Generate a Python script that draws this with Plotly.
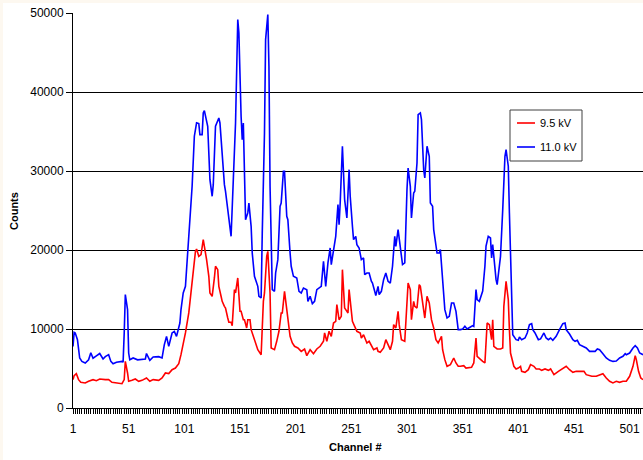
import plotly.graph_objects as go

# ---- data ----
ch_11kv = [1, 2, 3, 5, 7, 9, 12, 15, 17, 19, 22, 25, 28, 30, 33, 35, 37, 40, 45, 46, 47, 48, 50, 51, 52, 55, 59, 63, 66, 67,
           70, 73, 78, 81, 83, 85, 87, 90, 92, 94, 96, 97, 98, 100, 102, 103, 105, 107, 108, 110, 112, 114, 115, 117, 118, 119,
           121, 122, 123, 124, 126, 127, 129, 132, 133, 135, 137, 138, 140, 142, 143, 145, 146, 147, 149, 150, 152, 153, 154,
           155, 156, 158, 159, 161, 162, 164, 167, 168, 170, 171, 173, 174, 176, 177, 178, 180, 182, 183, 185, 187, 188, 190,
           191, 193, 194, 196, 197, 199, 202, 204, 206, 208, 211, 212, 214, 216, 218, 220, 222, 224, 226, 228, 230, 232, 233,
           235, 237, 239, 240, 241, 243, 245, 247, 249, 250, 252, 253, 255, 256, 258, 260, 262, 263, 265, 267, 269, 270, 272,
           273, 275, 276, 278, 280, 282, 284, 286, 288, 290, 291, 293, 295, 297, 299, 300, 301, 302, 304, 305, 307, 308, 310,
           311, 313, 314, 316, 317, 319, 321, 322, 324, 325, 328, 330, 331, 333, 335, 337, 339, 341, 343, 345, 347, 349, 351,
           353, 355, 358, 360, 361, 363, 364, 366, 369, 370, 371, 372, 374, 376, 377, 378, 379, 381, 382, 384, 385, 387, 389,
           390, 392, 393, 395, 396, 399, 401, 402, 404, 407, 409, 411, 413, 414, 416, 419, 421, 424, 426, 428, 430, 432, 435,
           438, 441, 443, 444, 447, 450, 452, 454, 456, 459, 462, 465, 470, 472, 474, 477, 480, 483, 486, 489, 492, 495, 497,
           498, 501, 504, 506, 508, 510, 513]
counts_11kv = [7800, 9580, 9500, 8650, 6330, 5900, 5700, 6100, 7000, 6300, 6600, 6900, 6200, 6500, 6750, 5900, 5600, 5800,
               5900, 5800, 9500, 14350, 12450, 6960, 6100, 6330, 6100, 6200, 6200, 6900, 6030, 6450, 6500, 6330, 8000, 9070,
               7800, 9500, 9700, 9070, 10130, 10760, 12450, 14560, 15400, 17500, 22150, 27200, 28060, 34400, 36100, 36000,
               34600, 34600, 37350, 37640, 36100, 35660, 32280, 28900, 26800, 28270, 35660, 36710, 36080, 31440, 28270, 27430,
               24900, 23000, 21730, 28900, 33550, 36080, 49160, 47480, 36900, 33970, 36080, 30600, 23840, 24690, 25950, 23000,
               19620, 16670, 15400, 14140, 13930, 22150, 34800, 46630, 49800, 43250, 28060, 14980, 14770, 17090, 18780, 25530,
               25950, 29960, 29960, 24270, 23840, 19620, 17940, 16670, 16460, 14770, 14560, 15190, 14980, 13500, 14140, 13210,
               13500, 14980, 15190, 15400, 18570, 15400, 18360, 20260, 18150, 20260, 21730, 25740, 23210, 25950, 33130, 26380,
               24050, 30170, 26800, 23000, 21310, 21730, 20680, 20260, 18780, 18990, 16880, 17090, 17090, 16040, 15820, 14770,
               14220, 15400, 14350, 14770, 16250, 17090, 16040, 15820, 17940, 21730, 20470, 22580, 20260, 18150, 18360, 23840,
               27640, 30380, 28060, 24050, 27220, 27430, 31020, 37140, 37350, 36500, 30170, 29120, 33130, 31860, 25950, 25530,
               22580, 19620, 19620, 20050, 15820, 12450, 11390, 11600, 13290, 13290, 12240, 9920, 9920, 10000, 10340, 10000,
               10250, 10420, 10340, 14980, 13720, 13500, 14800, 16000, 17940, 20500, 21730, 21520, 18990, 20680, 18780, 16250,
               15610, 18360, 19200, 25110, 31860, 32700, 30600, 24690, 15820, 9280, 8650, 8570, 8990, 8650, 8860, 9500, 10550,
               10680, 9920, 9500, 8650, 8740, 9500, 8860, 8650, 8860, 8570, 9070, 9920, 10680, 10760, 9920, 9370, 8650, 8440,
               8570, 8020, 7800, 7600, 7170, 7170, 7470, 7380, 6880, 6330, 6030, 5900, 5950, 6330, 6540, 6880, 6750, 6960,
               7600, 7890, 7600, 6960, 6750]

ch_9_5kv = [1, 2, 4, 6, 8, 12, 15, 19, 22, 25, 30, 33, 36, 40, 45, 47, 48, 50, 51, 54, 57, 60, 63, 67, 70, 73, 78, 81, 84, 87,
            90, 93, 96, 98, 100, 102, 105, 107, 108, 111, 112, 114, 116, 118, 121, 123, 124, 125, 126, 128, 129, 131, 132, 134,
            135, 137, 138, 140, 141, 143, 144, 146, 147, 149, 150, 151, 152, 154, 155, 157, 158, 160, 161, 163, 164, 166, 167,
            170, 171, 172, 173, 175, 176, 178, 179, 182, 184, 186, 188, 189, 191, 193, 194, 196, 198, 200, 203, 206, 209, 211,
            214, 217, 220, 223, 226, 227, 229, 231, 233, 235, 237, 238, 240, 242, 243, 245, 246, 248, 249, 250, 252, 254, 256,
            259, 260, 262, 265, 267, 269, 271, 274, 275, 277, 280, 282, 284, 286, 288, 289, 291, 293, 294, 296, 299, 300, 302,
            304, 305, 307, 308, 310, 312, 313, 315, 317, 319, 321, 323, 325, 327, 329, 332, 333, 335, 337, 340, 343, 345, 347,
            349, 352, 354, 356, 359, 361, 363, 364, 367, 369, 371, 373, 375, 377, 378, 379, 382, 385, 387, 388, 390, 392, 393,
            394, 397, 399, 401, 403, 404, 407, 410, 412, 415, 417, 420, 422, 425, 428, 430, 433, 437, 441, 444, 447, 450, 453,
            456, 460, 462, 467, 471, 474, 477, 480, 483, 486, 489, 492, 495, 498, 501, 504, 506, 507, 509, 511, 513]
counts_9_5kv = [3590, 4090, 4350, 3590, 3250, 3170, 3380, 3590, 3460, 3670, 3590, 3590, 3250, 3170, 3080, 3590, 5910, 4430,
                3380, 3500, 3670, 3380, 3500, 3800, 3380, 3590, 3500, 3800, 4430, 4350, 4850, 5060, 5610, 6750, 8020, 9500,
                12030, 14560, 16670, 19830, 20130, 19200, 19410, 21310, 18780, 16670, 14560, 14350, 14140, 16460, 17940,
                17510, 15400, 14140, 13500, 12870, 12660, 11390, 10850, 10850, 10420, 14980, 14560, 16460, 13710, 12240,
                12240, 11180, 11180, 10130, 11180, 11180, 9920, 9070, 8440, 7810, 7380, 6750, 10760, 13500, 14560, 19200,
                19830, 14560, 7600, 7380, 8440, 9710, 12030, 12030, 14770, 12240, 11820, 9070, 8230, 7810, 7600, 7170, 7470,
                6630, 7380, 6880, 7470, 7810, 8440, 9500, 8440, 9710, 9070, 10760, 10970, 13080, 11180, 11600, 17510, 12660,
                12450, 12030, 14980, 13290, 10970, 10340, 9710, 9500, 8860, 9280, 8230, 8440, 7810, 7380, 7600, 7170, 7050,
                7600, 8650, 8020, 7380, 8440, 10550, 10130, 12240, 10550, 8650, 8440, 11600, 15820, 14980, 11180, 13500,
                12870, 12660, 15610, 15400, 13290, 11390, 14140, 13290, 11180, 10130, 8650, 8230, 9070, 7380, 6120, 5280,
                5490, 6330, 5700, 5280, 5280, 5360, 5060, 5060, 5150, 5700, 8860, 6540, 6120, 5910, 5700, 10760, 10550, 8650,
                11180, 7810, 7470, 7470, 7600, 12870, 16040, 13710, 9920, 6960, 5280, 4940, 5060, 5280, 4640, 4520, 4850,
                5490, 5280, 4940, 4940, 4770, 4940, 4770, 4940, 4220, 4640, 5060, 5280, 4850, 4520, 4640, 4640, 4640, 4220,
                4010, 4010, 4220, 4350, 3800, 3380, 3170, 3380, 3250, 3380, 3380, 4010, 5280, 6630, 6120, 4640, 3800, 3590]

series_names = ["9.5 kV", "11.0 kV"]
series_colors = ["#ff0000", "#0000ff"]
y_tick_values = [0, 10000, 20000, 30000, 40000, 50000]
x_tick_labels = [1, 51, 101, 151, 201, 251, 301, 351, 401, 451, 501]
x_tick_marks = list(range(1, 514, 2))  # a small tick every second channel

FONT = "Liberation Sans, Arial, sans-serif"

fig = go.Figure()
fig.add_trace(go.Scatter(x=ch_9_5kv, y=counts_9_5kv, mode="lines", name=series_names[0],
                         line=dict(color=series_colors[0], width=1.6), showlegend=False))
fig.add_trace(go.Scatter(x=ch_11kv, y=counts_11kv, mode="lines", name=series_names[1],
                         line=dict(color=series_colors[1], width=1.6), showlegend=False))

# plot-area geometry (pixels) used for paper-coordinate conversions
L, T, W, H = 73, 13, 570, 395


def px(xp):
    return (xp - L) / W


def py(yp):
    return (T + H - yp) / H


shapes = [
    # white page with a thin cream strip on top/left
    dict(type="rect", xref="paper", yref="paper", x0=px(3), x1=1.2, y0=-0.3, y1=py(3),
         fillcolor="white", line=dict(width=0), layer="below"),
    # legend box
    dict(type="rect", xref="paper", yref="paper", x0=px(510), x1=px(582), y0=py(161), y1=py(110),
         fillcolor="white", line=dict(color="#404040", width=1), layer="above"),
    dict(type="line", xref="paper", yref="paper", x0=px(517), x1=px(535), y0=py(123), y1=py(123),
         line=dict(color=series_colors[0], width=1.6), layer="above"),
    dict(type="line", xref="paper", yref="paper", x0=px(517), x1=px(535), y0=py(147), y1=py(147),
         line=dict(color=series_colors[1], width=1.6), layer="above"),
]

annotations = [
    dict(text=series_names[0], xref="paper", yref="paper", x=px(538), y=py(123), xanchor="left",
         yanchor="middle", showarrow=False, font=dict(family=FONT, size=11, color="black")),
    dict(text=series_names[1], xref="paper", yref="paper", x=px(538), y=py(147), xanchor="left",
         yanchor="middle", showarrow=False, font=dict(family=FONT, size=11, color="black")),
    dict(text="<b>Counts</b>", xref="paper", yref="paper", x=px(14), y=py(211), textangle=-90,
         xanchor="center", yanchor="middle", showarrow=False, font=dict(family=FONT, size=11, color="black")),
    dict(text="<b>Channel #</b>", xref="paper", yref="paper", x=px(355), y=py(447),
         xanchor="center", yanchor="middle", showarrow=False, font=dict(family=FONT, size=11, color="black")),
]

fig.update_layout(
    width=643, height=460,
    margin=dict(l=L, r=643 - L - W, t=T, b=460 - T - H, pad=0),
    paper_bgcolor="#fdf8f0",
    plot_bgcolor="white",
    font=dict(family=FONT, size=12, color="black"),
    shapes=shapes,
    annotations=annotations,
    showlegend=False,
    xaxis=dict(
        range=[1, 513], tickmode="array", tickvals=x_tick_marks,
        ticktext=[str(v) if v in x_tick_labels else "" for v in x_tick_marks],
        ticks="outside", ticklen=5, tickwidth=1, tickcolor="black",
        showline=True, linecolor="black", linewidth=1, showgrid=False, zeroline=False,
        tickfont=dict(family=FONT, size=12, color="black"), ticklabelstandoff=5,
    ),
    yaxis=dict(
        range=[0, 50000], tickmode="array", tickvals=y_tick_values, ticktext=[str(v) for v in y_tick_values],
        ticks="outside", ticklen=6, tickwidth=1, tickcolor="black",
        showline=True, linecolor="black", linewidth=1,
        showgrid=True, gridcolor="black", gridwidth=1, zeroline=False,
        tickfont=dict(family=FONT, size=12, color="black"),
    ),
)

fig.write_html("out.html", config={"displayModeBar": False},
               post_script="document.body.style.margin='0';document.body.style.overflow='hidden';")
